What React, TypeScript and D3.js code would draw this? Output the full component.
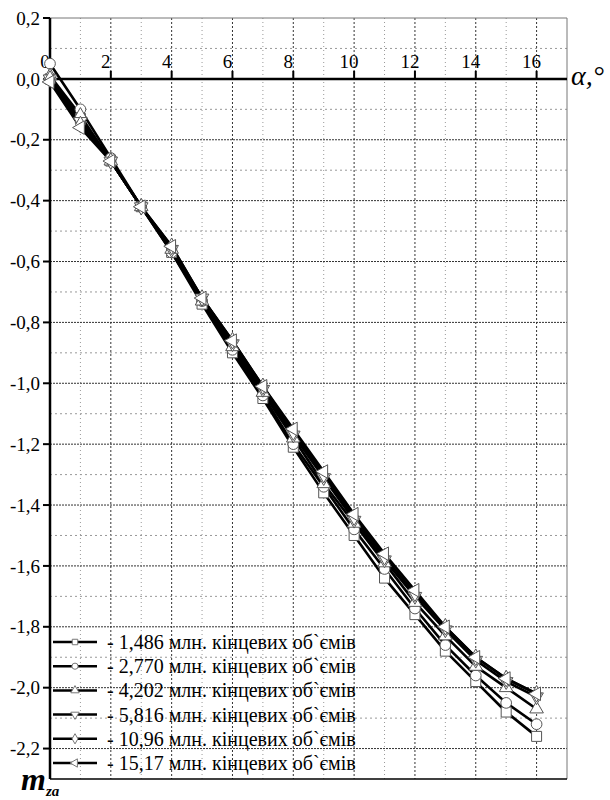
import React, { useEffect, useRef } from "react";
import * as d3 from "d3";

const alpha = d3.range(0, 17);
const labels = [
  "- 1,486 млн. кінцевих об`ємів",
  "- 2,770 млн. кінцевих об`ємів",
  "- 4,202 млн. кінцевих об`ємів",
  "- 5,816 млн. кінцевих об`ємів",
  "- 10,96 млн. кінцевих об`ємів",
  "- 15,17 млн. кінцевих об`ємів",
];
const s1486 = [0.0, -0.13, -0.27, -0.42, -0.57, -0.74, -0.9, -1.05, -1.21, -1.36, -1.5, -1.64, -1.76, -1.88, -1.98, -2.08, -2.16];
const s2770 = [0.05, -0.1, -0.26, -0.42, -0.57, -0.73, -0.89, -1.04, -1.2, -1.34, -1.48, -1.61, -1.74, -1.86, -1.96, -2.05, -2.12];
const s4202 = [0.01, -0.12, -0.27, -0.42, -0.56, -0.73, -0.88, -1.03, -1.18, -1.33, -1.46, -1.59, -1.72, -1.83, -1.93, -2.0, -2.07];
const s5816 = [0.0, -0.14, -0.27, -0.42, -0.56, -0.72, -0.87, -1.02, -1.17, -1.31, -1.45, -1.58, -1.7, -1.81, -1.91, -1.98, -2.03];
const s1096 = [0.0, -0.15, -0.27, -0.42, -0.55, -0.72, -0.86, -1.01, -1.16, -1.3, -1.44, -1.57, -1.69, -1.8, -1.9, -1.97, -2.02];
const s1517 = [-0.01, -0.16, -0.27, -0.42, -0.55, -0.72, -0.86, -1.01, -1.15, -1.29, -1.43, -1.56, -1.68, -1.8, -1.9, -1.97, -2.02];
const series = [s1486, s2770, s4202, s5816, s1096, s1517];
const xTicks = [0, 2, 4, 6, 8, 10, 12, 14, 16];
const yTicks = [0.2, 0, -0.2, -0.4, -0.6, -0.8, -1.0, -1.2, -1.4, -1.6, -1.8, -2.0, -2.2];

// marker shapes: symbol + rotation + size
const markers: [d3.SymbolType, number, number][] = [
  [d3.symbolSquare, 0, 100],
  [d3.symbolCircle, 0, 90],
  [d3.symbolTriangle, 0, 80],
  [d3.symbolTriangle, 180, 80],
  [d3.symbolDiamond, 0, 80],
  [d3.symbolTriangle, -90, 80],
];

const FONT = "Liberation Serif, Times New Roman, serif";

const App = () => {
  const ref = useRef<SVGSVGElement>(null);

  useEffect(() => {
    const svg = d3.select(ref.current);
    svg.selectAll("*").remove();
    const left = 50, right = 567, top = 18, bottom = 779;
    const x = d3.scaleLinear().domain([0, 17]).range([left, right]);
    const y = d3.scaleLinear().domain([0.2, -2.3]).range([top, bottom]);

    // grid
    const g = svg.append("g");
    d3.range(1, 17).forEach((v) => {
      const major = v % 2 === 0;
      g.append("line")
        .attr("x1", x(v)).attr("x2", x(v)).attr("y1", top).attr("y2", bottom)
        .attr("stroke", major ? "#333" : "#999")
        .attr("stroke-width", 1)
        .attr("stroke-dasharray", major ? "2,2" : "1,3");
    });
    d3.range(-22, 2).forEach((k) => {
      if (k === 0) return;
      const v = k / 10;
      const major = k % 2 === 0;
      g.append("line")
        .attr("x1", left).attr("x2", right).attr("y1", y(v)).attr("y2", y(v))
        .attr("stroke", major ? "#333" : "#999")
        .attr("stroke-width", 1)
        .attr("stroke-dasharray", major ? "2,1" : "2,3");
    });
    // frame
    g.append("line").attr("x1", left).attr("x2", right).attr("y1", top).attr("y2", top)
      .attr("stroke", "#777").attr("stroke-width", 1);
    g.append("line").attr("x1", right).attr("x2", right).attr("y1", top).attr("y2", bottom)
      .attr("stroke", "#777").attr("stroke-width", 1);
    g.append("line").attr("x1", left).attr("x2", right).attr("y1", bottom).attr("y2", bottom)
      .attr("stroke", "#000").attr("stroke-width", 1.5);

    // x axis at zero
    g.append("line").attr("x1", left).attr("x2", right).attr("y1", y(0)).attr("y2", y(0))
      .attr("stroke", "#000").attr("stroke-width", 2.5);
    xTicks.forEach((t) => {
      if (t > 0) {
        g.append("line").attr("x1", x(t)).attr("x2", x(t)).attr("y1", y(0) - 8).attr("y2", y(0))
          .attr("stroke", "#000").attr("stroke-width", 2);
      }
      g.append("text")
        .attr("x", x(t) - 5).attr("y", y(0) - 11)
        .attr("text-anchor", "middle")
        .attr("font-family", FONT).attr("font-size", 19)
        .text(String(t));
    });

    // y axis
    g.append("line").attr("x1", left).attr("x2", left).attr("y1", top).attr("y2", bottom)
      .attr("stroke", "#000").attr("stroke-width", 2.5);
    yTicks.forEach((t) => {
      g.append("line").attr("x1", left - 7).attr("x2", left).attr("y1", y(t)).attr("y2", y(t))
        .attr("stroke", "#000").attr("stroke-width", 2);
      g.append("text")
        .attr("x", 40).attr("y", y(t)).attr("dy", "0.35em")
        .attr("text-anchor", "end")
        .attr("font-family", FONT).attr("font-size", 19)
        .text(d3.format(".1f")(t).replace(".", ",").replace("−", "-"));
    });

    // axis titles
    svg.append("text")
      .attr("x", 571).attr("y", 85)
      .attr("font-family", FONT).attr("font-size", 28)
      .attr("font-style", "italic")
      .text("α,°");
    const mz = svg.append("text")
      .attr("x", 21).attr("y", 790)
      .attr("font-family", FONT).attr("font-weight", "bold").attr("font-style", "italic");
    mz.append("tspan").attr("font-size", 32).text("m");
    mz.append("tspan").attr("font-size", 15).attr("dy", 6).text("za");

    // lines
    const line = d3.line<number>().x((_, i) => x(alpha[i])).y((d) => y(d));
    series.forEach((s) => {
      svg.append("path").datum(s).attr("d", line)
        .attr("fill", "none").attr("stroke", "#000").attr("stroke-width", 2.6)
        .attr("stroke-linejoin", "round");
    });
    series.forEach((s, si) => {
      const [type, rot, size] = markers[si];
      const sym = d3.symbol().type(type).size(size);
      svg.append("g").selectAll("path").data(s).enter().append("path")
        .attr("d", sym()!)
        .attr("transform", (d, i) => `translate(${x(alpha[i])},${y(d)}) rotate(${rot})`)
        .attr("fill", "#fff").attr("stroke", "#555").attr("stroke-width", 1);
    });

    // legend
    const lg = svg.append("g");
    labels.forEach((lab, i) => {
      const ly = 642 + i * 24.2;
      lg.append("line").attr("x1", 53).attr("x2", 97).attr("y1", ly).attr("y2", ly)
        .attr("stroke", "#000").attr("stroke-width", 2.5);
      const [type, rot] = markers[i];
      lg.append("path")
        .attr("d", d3.symbol().type(type).size(30)()!)
        .attr("transform", `translate(75,${ly}) rotate(${rot})`)
        .attr("fill", "#fff").attr("stroke", "#777").attr("stroke-width", 1);
      lg.append("text")
        .attr("x", 107).attr("y", ly).attr("dy", "0.35em")
        .attr("font-family", FONT).attr("font-size", 20)
        .text(lab);
    });
  }, []);

  return (
    <svg
      ref={ref}
      width={610}
      height={800}
      style={{ position: "absolute", left: 0, top: 0, background: "#fff" }}
    ></svg>
  );
};

export default App;
